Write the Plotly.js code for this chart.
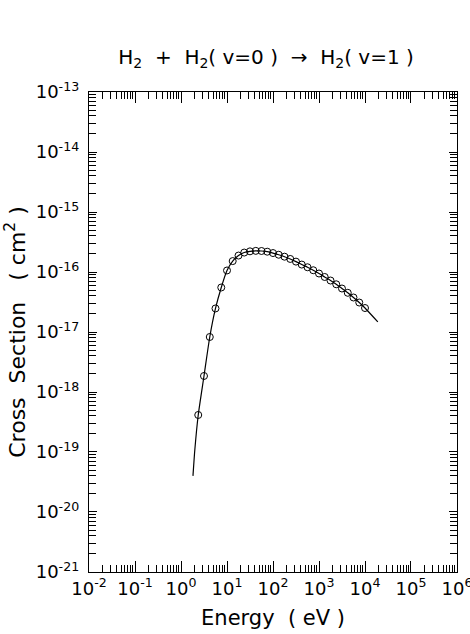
<!DOCTYPE html>
<html>
<head>
<meta charset="utf-8">
<script src="https://cdn.plot.ly/plotly-3.0.1.min.js"></script>
<style>html,body{margin:0;padding:0;background:#fff;}#chart{width:470px;height:634px;}</style>
</head>
<body>
<div id="chart"></div>
<script>
// Measured cross sections (open circles)
const energy = [2.37, 3.16, 4.22, 5.62, 7.50, 10.0, 13.3, 17.8, 23.7, 31.6,
  42.2, 56.2, 75.0, 100, 133, 178, 237, 316, 422, 562,
  750, 1000, 1330, 1780, 2370, 3160, 4220, 5620, 7500, 10000];
const sigma = [4.14e-19, 1.85e-18, 8.26e-18, 2.47e-17, 5.52e-17, 1.06e-16, 1.52e-16, 1.88e-16, 2.11e-16, 2.21e-16,
  2.25e-16, 2.24e-16, 2.18e-16, 2.07e-16, 1.94e-16, 1.80e-16, 1.65e-16, 1.49e-16, 1.33e-16, 1.20e-16,
  1.07e-16, 9.44e-17, 8.26e-17, 7.21e-17, 6.24e-17, 5.31e-17, 4.50e-17, 3.76e-17, 3.10e-17, 2.51e-17];
// Fitted curve (solid line)
const fitEnergy = [1.82, 2.0, 2.37, 3.16, 4.22, 5.62, 7.50, 10.0, 13.3, 17.8, 23.7, 31.6,
  42.2, 56.2, 75.0, 100, 133, 178, 237, 316, 422, 562,
  750, 1000, 1330, 1780, 2370, 3160, 4220, 5620, 7500, 10000, 19000];
const fitSigma = [4.0e-20, 1.1e-19, 4.14e-19, 1.85e-18, 8.26e-18, 2.47e-17, 5.52e-17, 1.06e-16, 1.52e-16, 1.88e-16, 2.11e-16, 2.21e-16,
  2.25e-16, 2.24e-16, 2.18e-16, 2.07e-16, 1.94e-16, 1.80e-16, 1.65e-16, 1.49e-16, 1.33e-16, 1.20e-16,
  1.07e-16, 9.44e-17, 8.26e-17, 7.21e-17, 6.24e-17, 5.31e-17, 4.50e-17, 3.76e-17, 3.10e-17, 2.51e-17, 1.47e-17];

// Tick labels
const xTickVals = [1e-2, 1e-1, 1e0, 1e1, 1e2, 1e3, 1e4, 1e5, 1e6];
const xTickText = ['10<sup>-2</sup>', '10<sup>-1</sup>', '10<sup>0</sup>', '10<sup>1</sup>', '10<sup>2</sup>',
  '10<sup>3</sup>', '10<sup>4</sup>', '10<sup>5</sup>', '10<sup>6</sup>'];
const yTickVals = [1e-21, 1e-20, 1e-19, 1e-18, 1e-17, 1e-16, 1e-15, 1e-14, 1e-13];
const yTickText = ['10<sup>-21</sup>', '10<sup>-20</sup>', '10<sup>-19</sup>', '10<sup>-18</sup>', '10<sup>-17</sup>',
  '10<sup>-16</sup>', '10<sup>-15</sup>', '10<sup>-14</sup>', '10<sup>-13</sup>'];

const titleText = 'H<sub>2</sub>\u00a0\u00a0+\u00a0\u00a0H<sub>2</sub>(\u00a0v=0\u00a0)\u00a0\u00a0\u2192\u00a0\u00a0H<sub>2</sub>(\u00a0v=1\u00a0)';
const xTitle = 'Energy\u00a0\u00a0(\u00a0eV\u00a0)';
const yTitle = 'Cross\u00a0\u00a0Section\u00a0\u00a0\u00a0(\u00a0cm<sup>2</sup>\u00a0)';

const FONT = 'DejaVu Sans, sans-serif';

const traces = [
  {x: fitEnergy, y: fitSigma, mode: 'lines', line: {color: '#000', width: 1.2, shape: 'spline', smoothing: 0.6}, hoverinfo: 'skip', showlegend: false},
  {x: energy, y: sigma, mode: 'markers', marker: {symbol: 'circle-open', size: 7, color: '#000', line: {width: 1, color: '#000'}}, showlegend: false}
];

const axisCommon = {
  type: 'log',
  showgrid: false,
  zeroline: false,
  showline: true,
  linecolor: '#000',
  linewidth: 1.2,
  mirror: 'allticks',
  ticks: 'inside',
  ticklen: 11,
  tickwidth: 1,
  tickcolor: '#000',
  tickmode: 'array',
  ticklabeloverflow: 'allow',
  tickfont: {family: FONT, size: 18, color: '#000'},
  minor: {ticks: 'inside', ticklen: 7, tickwidth: 1, tickcolor: '#000', dtick: 'D1', showgrid: false}
};

const layout = {
  width: 470, height: 634,
  margin: {l: 89, r: 13, t: 92, b: 62},
  paper_bgcolor: '#fff', plot_bgcolor: '#fff',
  font: {family: FONT, color: '#000'},
  title: {text: titleText, font: {family: FONT, size: 20, color: '#000'}, x: 0.566, xref: 'container', xanchor: 'center', y: 0.91, yref: 'container', yanchor: 'middle'},
  xaxis: Object.assign({}, axisCommon, {range: [-2.0002, 6.0002], tickvals: xTickVals, ticktext: xTickText,
    title: {text: xTitle, font: {family: FONT, size: 21, color: '#000'}, standoff: 12}}),
  yaxis: Object.assign({}, axisCommon, {range: [-21.0002, -12.9998], tickvals: yTickVals, ticktext: yTickText, ticklen: 8,
    ticklabelstandoff: 5,
    title: {text: yTitle, font: {family: FONT, size: 22, color: '#000'}, standoff: 4}})
};

Plotly.newPlot('chart', traces, layout, {staticPlot: true, displayModeBar: false});
</script>
</body>
</html>
